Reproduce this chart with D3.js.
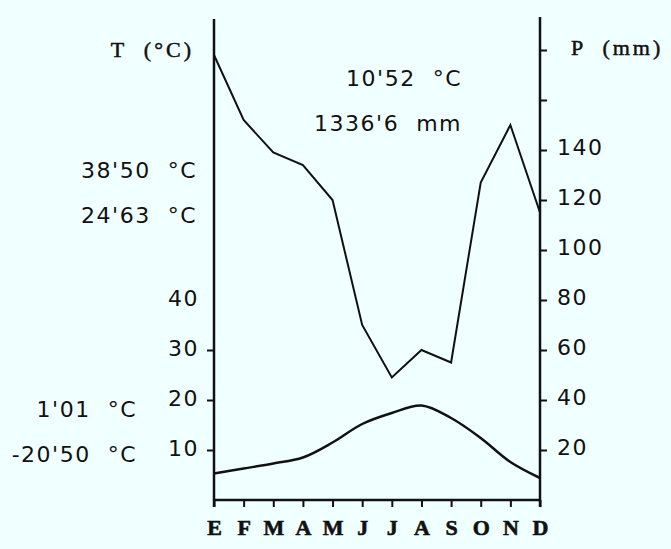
<!DOCTYPE html>
<html lang="es">
<head>
<meta charset="utf-8">
<title>Climograma</title>
<script src="https://cdn.jsdelivr.net/npm/d3@7"></script>
<style>
  body { margin: 0; background: #f0ffff; }
  text { fill: #111; }
</style>
</head>
<body>
<div id="chart"></div>
<script>
// meses (enero..diciembre)
var months = ["E", "F", "M", "A", "M", "J", "J", "A", "S", "O", "N", "D"];
// precipitacion media mensual (mm)
var precip = [178, 152, 139, 134, 120, 70, 49, 60, 55, 127, 150, 115];
// temperatura media mensual (°C)
var temp = [5.3, 6.3, 7.3, 8.5, 11.5, 15.2, 17.4, 18.9, 16.4, 12.4, 7.6, 4.4];
var tTicks = [10, 20, 30];
var tLabels = [10, 20, 30, 40];
var pTicks = [20, 40, 60, 80, 100, 120, 140, 160, 180];
var pLabels = [20, 40, 60, 80, 100, 120, 140];
var upperNotes = ["38'50  °C", "24'63  °C"];
var lowerNotes = ["1'01  °C", "-20'50  °C"];
var summary = ["10'52  °C", "1336'6  mm"];

var width = 671, height = 549;

var svg = d3.select("#chart").append("svg")
    .attr("width", width)
    .attr("height", height);

var x = d3.scaleLinear().domain([0, 11]).range([214, 540]);
var yT = d3.scaleLinear().domain([0, 40]).range([500, 300]);
var yP = d3.scaleLinear().domain([0, 80]).range([500, 300]);

var numFont = "'DejaVu Sans', sans-serif";
var serifFont = "'Liberation Serif', serif";

function numText(sel, size) {
    sel.style("font-family", numFont)
        .style("font-size", size + "px")
        .style("letter-spacing", "1.5px")
        .style("white-space", "pre");
}

// ejes
svg.append("line").attr("x1", x(0)).attr("x2", x(0))
    .attr("y1", 19).attr("y2", 507)
    .attr("stroke", "#111").attr("stroke-width", 2.5);
svg.append("line").attr("x1", x(11)).attr("x2", x(11))
    .attr("y1", 17).attr("y2", 507)
    .attr("stroke", "#111").attr("stroke-width", 2.5);
svg.append("line").attr("x1", x(0)).attr("x2", x(11))
    .attr("y1", 500).attr("y2", 500)
    .attr("stroke", "#111").attr("stroke-width", 2.5);

// eje de meses
var xAxis = d3.axisBottom(x)
    .tickValues(d3.range(12))
    .tickSize(7)
    .tickPadding(12)
    .tickFormat(function(i) { return months[i]; });
var gx = svg.append("g").attr("transform", "translate(0,500)").call(xAxis);
gx.select(".domain").remove();
gx.selectAll("line").attr("stroke", "#111").attr("stroke-width", 2);
gx.selectAll("text")
    .style("font-family", serifFont)
    .style("font-weight", "bold")
    .style("font-size", "22px")
    .attr("fill", "#111")
    .attr("stroke", "#111")
    .attr("stroke-width", 0.6);

// eje de temperatura (izquierda)
var yAxisT = d3.axisLeft(yT).tickValues(tTicks).tickSize(7).tickFormat("");
var gt = svg.append("g").attr("transform", "translate(" + x(0) + ",0)").call(yAxisT);
gt.select(".domain").remove();
gt.selectAll("line").attr("stroke", "#111").attr("stroke-width", 2);

svg.selectAll(".tlab").data(tLabels).enter().append("text")
    .attr("class", "tlab")
    .attr("x", 199)
    .attr("y", function(d) { return yT(d) - 2; })
    .attr("dy", "0.35em")
    .attr("text-anchor", "end")
    .call(numText, 22)
    .text(function(d) { return d; });

// eje de precipitacion (derecha)
var yAxisP = d3.axisRight(yP).tickValues(pTicks).tickSize(7).tickFormat("");
var gp = svg.append("g").attr("transform", "translate(" + x(11) + ",0)").call(yAxisP);
gp.select(".domain").remove();
gp.selectAll("line").attr("stroke", "#111").attr("stroke-width", 2);

svg.selectAll(".plab").data(pLabels).enter().append("text")
    .attr("class", "plab")
    .attr("x", 557)
    .attr("y", function(d) { return yP(d) - 3; })
    .attr("dy", "0.35em")
    .attr("text-anchor", "start")
    .call(numText, 22)
    .text(function(d) { return d; });

// titulos de los ejes
svg.append("text")
    .attr("x", 194).attr("y", 57)
    .attr("text-anchor", "end")
    .style("font-family", serifFont)
    .style("font-size", "22px")
    .style("letter-spacing", "3px")
    .attr("stroke", "#111")
    .attr("stroke-width", 0.5)
    .style("white-space", "pre")
    .text("T  (°C)");
svg.append("text")
    .attr("x", 571).attr("y", 55)
    .style("font-family", serifFont)
    .style("font-size", "22px")
    .style("letter-spacing", "3px")
    .attr("stroke", "#111")
    .attr("stroke-width", 0.5)
    .style("white-space", "pre")
    .text("P  (mm)");

// notas de la izquierda
var upperY = [178, 223];
svg.selectAll(".unote").data(upperNotes).enter().append("text")
    .attr("class", "unote")
    .attr("x", 197)
    .attr("y", function(d, i) { return upperY[i]; })
    .attr("text-anchor", "end")
    .call(numText, 22)
    .text(function(d) { return d; });

var lowerY = [417, 462];
svg.selectAll(".lnote").data(lowerNotes).enter().append("text")
    .attr("class", "lnote")
    .attr("x", 137)
    .attr("y", function(d, i) { return lowerY[i]; })
    .attr("text-anchor", "end")
    .call(numText, 22)
    .text(function(d) { return d; });

// medias anuales
var sumY = [86, 131];
svg.selectAll(".sum").data(summary).enter().append("text")
    .attr("class", "sum")
    .attr("x", 462)
    .attr("y", function(d, i) { return sumY[i]; })
    .attr("text-anchor", "end")
    .call(numText, 22)
    .text(function(d) { return d; });

// lineas
var lineP = d3.line()
    .x(function(d, i) { return x(i); })
    .y(function(d) { return yP(d); });
var lineT = d3.line()
    .x(function(d, i) { return x(i); })
    .y(function(d) { return yT(d); })
    .curve(d3.curveCatmullRom);

svg.append("path").datum(precip)
    .attr("d", lineP)
    .attr("fill", "none")
    .attr("stroke", "#111")
    .attr("stroke-width", 2);
svg.append("path").datum(temp)
    .attr("d", lineT)
    .attr("fill", "none")
    .attr("stroke", "#111")
    .attr("stroke-width", 2.5);
</script>
</body>
</html>
